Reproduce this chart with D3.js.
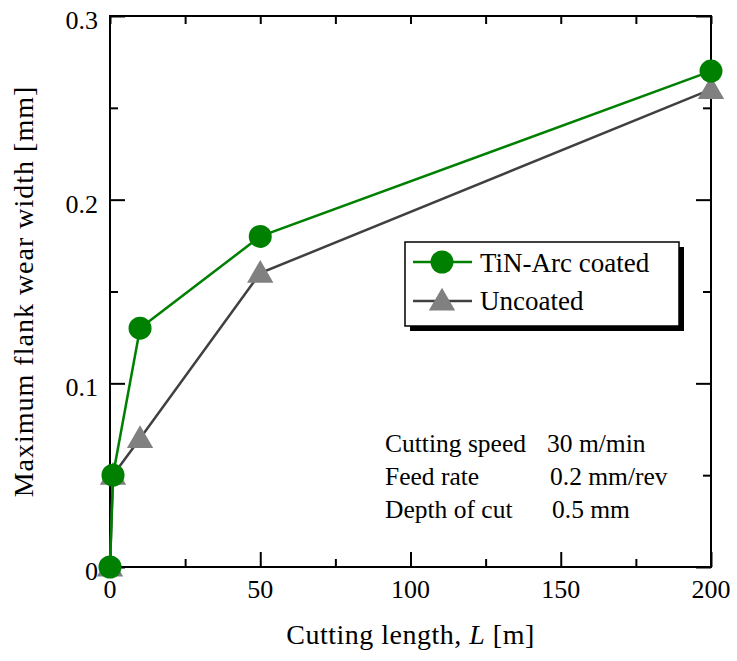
<!DOCTYPE html>
<html>
<head>
    <meta charset="utf-8">
    <title>Flank wear</title>
    <script src="https://d3js.org/d3.v7.min.js"></script>
    <style>
        body { margin: 0; background: #fff; }
        text { font-family: "Liberation Serif", "Times New Roman", serif; fill: #000; }
    </style>
</head>
<body>
<div id="chart"></div>
<script type="text/javascript">
    let w = 737;
    let h = 661;
    let margin = {top: 16, right: 26, bottom: 94, left: 110};

    // data
    let lengths = [0, 1, 10, 50, 200];
    let coated = [0, 0.05, 0.13, 0.18, 0.27];
    let uncoated = [0, 0.05, 0.07, 0.16, 0.26];
    let xTicks = [0, 50, 100, 150, 200];
    let xMinor = [25, 75, 125, 175];
    let yTicks = [0, 0.1, 0.2, 0.3];
    let yMinor = [0.05, 0.15, 0.25];
    let conditions = [
        ["Cutting speed", "30 m/min"],
        ["Feed rate", "0.2 mm/rev"],
        ["Depth of cut", "0.5 mm"]
    ];

    let xScale = d3.scaleLinear().domain([0, 200]).range([margin.left, w - margin.right]);
    let yScale = d3.scaleLinear().domain([0, 0.3]).range([h - margin.bottom, margin.top]);

    let svg = d3.select("#chart")
                .append("svg")
                .attr("width", w)
                .attr("height", h);

    let x0 = xScale(0), x1 = xScale(200), y0 = yScale(0), y1 = yScale(0.3);

    // ticks pointing inward, on all four sides
    function tickAxis(axis, size, vals, tr) {
        let g = svg.append("g")
            .attr("transform", tr)
            .call(axis.tickValues(vals).tickSize(size).tickFormat(""));
        g.select(".domain").remove();
        g.selectAll("line").attr("stroke", "#000").attr("stroke-width", 2);
    }
    tickAxis(d3.axisBottom(xScale), -15, xTicks, "translate(0," + y0 + ")");
    tickAxis(d3.axisBottom(xScale), -8, xMinor, "translate(0," + y0 + ")");
    tickAxis(d3.axisTop(xScale), -8, xMinor.concat(xTicks), "translate(0," + y1 + ")");
    tickAxis(d3.axisLeft(yScale), -15, yTicks, "translate(" + x0 + ",0)");
    tickAxis(d3.axisLeft(yScale), -8, yMinor, "translate(" + x0 + ",0)");
    tickAxis(d3.axisRight(yScale), -15, yTicks, "translate(" + x1 + ",0)");
    tickAxis(d3.axisRight(yScale), -8, yMinor, "translate(" + x1 + ",0)");

    svg.append("rect")
        .attr("x", x0).attr("y", y1)
        .attr("width", x1 - x0).attr("height", y0 - y1)
        .attr("fill", "none").attr("stroke", "#000").attr("stroke-width", 2);

    // tick labels
    svg.selectAll(".xl")
        .data(xTicks)
        .enter()
        .append("text")
        .attr("x", function(d) { return xScale(d); })
        .attr("y", y0 + 31)
        .attr("text-anchor", "middle")
        .attr("font-size", "26px")
        .text(function(d) { return d; });

    svg.selectAll(".yl")
        .data(yTicks)
        .enter()
        .append("text")
        .attr("x", x0 - 12)
        .attr("y", function(d) { return yScale(d) + 13; })
        .attr("text-anchor", "end")
        .attr("font-size", "26px")
        .text(function(d) { return d; });

    // axis titles
    let xt = svg.append("text")
        .attr("x", (x0 + x1) / 2)
        .attr("y", 644)
        .attr("text-anchor", "middle")
        .attr("font-size", "28px")
        .attr("letter-spacing", "0.5px");
    xt.append("tspan").text("Cutting length, ");
    xt.append("tspan").attr("font-style", "italic").text("L");
    xt.append("tspan").text(" [m]");

    svg.append("text")
        .attr("transform", "translate(33," + (y0 + y1) / 2 + ") rotate(-90)")
        .attr("text-anchor", "middle")
        .attr("font-size", "28px")
        .attr("letter-spacing", "1px")
        .text("Maximum flank wear width [mm]");

    // series
    let line = d3.line()
        .x(function(d) { return xScale(d[0]); })
        .y(function(d) { return yScale(d[1]); });

    let unc = d3.zip(lengths, uncoated);
    let coa = d3.zip(lengths, coated);
    let tri = d3.symbol().type(d3.symbolTriangle).size(300);

    svg.append("path")
        .datum(unc)
        .attr("d", line)
        .attr("fill", "none")
        .attr("stroke", "#404040")
        .attr("stroke-width", 2.5);

    svg.selectAll(".tri")
        .data(unc)
        .enter()
        .append("path")
        .attr("d", tri)
        .attr("transform", function(d) { return "translate(" + xScale(d[0]) + "," + (yScale(d[1]) + 2) + ")"; })
        .attr("fill", "#808080");

    svg.append("path")
        .datum(coa)
        .attr("d", line)
        .attr("fill", "none")
        .attr("stroke", "#008000")
        .attr("stroke-width", 2.5);

    svg.selectAll(".dot")
        .data(coa)
        .enter()
        .append("circle")
        .attr("cx", function(d) { return xScale(d[0]); })
        .attr("cy", function(d) { return yScale(d[1]); })
        .attr("r", 11.5)
        .attr("fill", "#008000");

    // legend
    let lg = svg.append("g").attr("transform", "translate(405,242)");
    lg.append("rect").attr("x", 5).attr("y", 5).attr("width", 274).attr("height", 84).attr("fill", "#000");
    lg.append("rect").attr("width", 274).attr("height", 84)
        .attr("fill", "#fff").attr("stroke", "#000").attr("stroke-width", 1.5);

    lg.append("line").attr("x1", 8).attr("x2", 67).attr("y1", 20).attr("y2", 20)
        .attr("stroke", "#008000").attr("stroke-width", 2.5);
    lg.append("circle").attr("cx", 37).attr("cy", 20).attr("r", 11.5).attr("fill", "#008000");
    lg.append("text").attr("x", 75).attr("y", 30).attr("font-size", "27px").text("TiN-Arc coated");

    lg.append("line").attr("x1", 8).attr("x2", 67).attr("y1", 59).attr("y2", 59)
        .attr("stroke", "#404040").attr("stroke-width", 2.5);
    lg.append("path").attr("d", tri).attr("transform", "translate(37,61)").attr("fill", "#808080");
    lg.append("text").attr("x", 75).attr("y", 68).attr("font-size", "27px").text("Uncoated");

    // cutting conditions
    let cx2 = [547, 550, 552];
    svg.selectAll(".c1")
        .data(conditions)
        .enter()
        .append("text")
        .attr("x", 385)
        .attr("y", function(d, i) { return 452 + i * 33; })
        .attr("font-size", "25.5px")
        .text(function(d) { return d[0]; });
    svg.selectAll(".c2")
        .data(conditions)
        .enter()
        .append("text")
        .attr("x", function(d, i) { return cx2[i]; })
        .attr("y", function(d, i) { return 452 + i * 33; })
        .attr("font-size", "25.5px")
        .text(function(d) { return d[1]; });
</script>
</body>
</html>
